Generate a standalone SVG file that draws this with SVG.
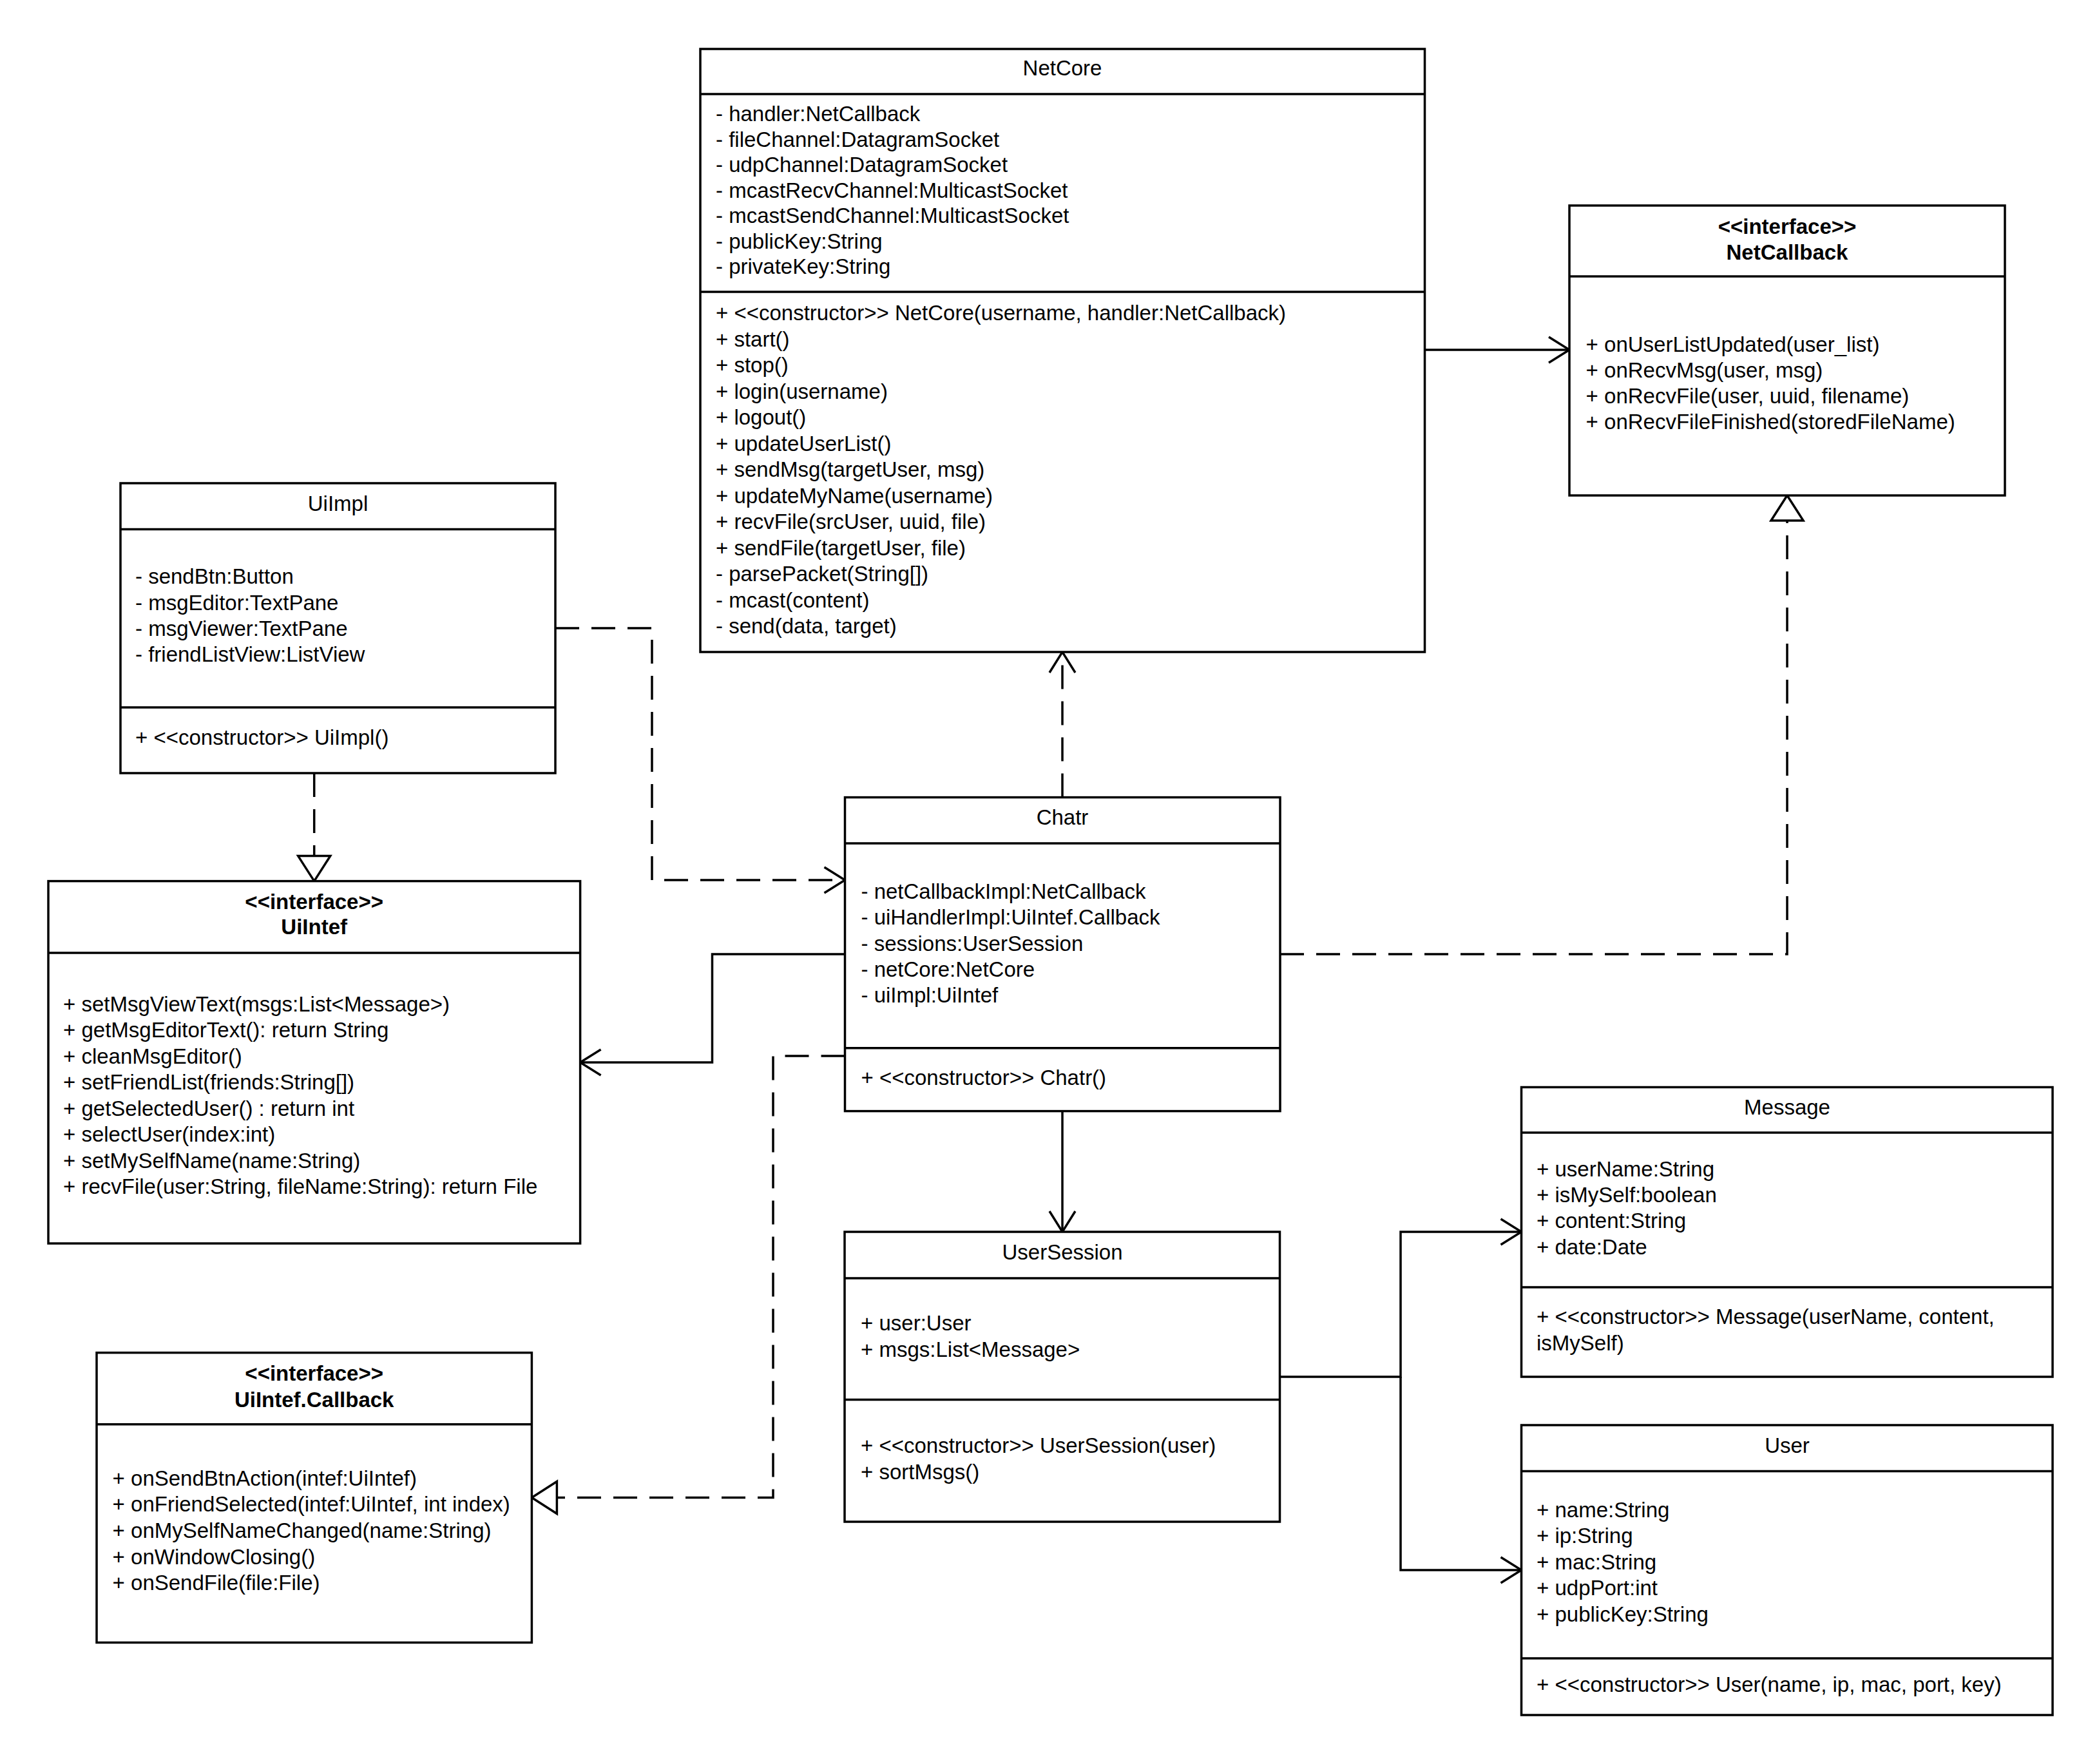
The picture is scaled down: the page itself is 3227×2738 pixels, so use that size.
<svg xmlns="http://www.w3.org/2000/svg" width="3227" height="2738" viewBox="0 0 3227 2738">
<style>
text{font-family:"Liberation Sans",Arial,Helvetica,sans-serif;font-size:33px;fill:#000}
.t{text-anchor:middle}
.b{font-weight:bold;text-anchor:middle}
.box{fill:#fff;stroke:#000;stroke-width:3.5}
.sep{stroke:#000;stroke-width:3.5;fill:none}
.ln{fill:none;stroke:#000;stroke-width:3.5}
.dash{stroke-dasharray:37 19}
</style>
<defs>
<marker id="open" markerUnits="userSpaceOnUse" viewBox="-40 -26 44 52" markerWidth="44" markerHeight="52" refX="0" refY="0" orient="auto" overflow="visible">
<path d="M-32,-20 L0,0 L-32,20" fill="none" stroke="#000" stroke-width="3.5"/>
</marker>
<marker id="tri" markerUnits="userSpaceOnUse" viewBox="-44 -30 48 60" markerWidth="48" markerHeight="60" refX="0" refY="0" orient="auto" overflow="visible">
<path d="M0,0 L-39,-25 L-39,25 Z" fill="#fff" stroke="#000" stroke-width="3.5"/>
</marker>
</defs>
<rect width="3227" height="2738" fill="#fff"/>
<g id="connectors">
<path class="ln" d="M2211.5,543 L2436,543" marker-end="url(#open)"/>
<path class="ln dash" d="M1649,1237.6 L1649,1012" marker-end="url(#open)"/>
<path class="ln dash" d="M1987,1481 L2774,1481 L2774,769" marker-end="url(#tri)"/>
<path class="ln dash" d="M862,975 L1012,975 L1012,1366 L1311.5,1366" marker-end="url(#open)"/>
<path class="ln dash" d="M487.7,1200 L487.7,1367.6" marker-end="url(#tri)"/>
<path class="ln" d="M1311.5,1481 L1105.5,1481 L1105.5,1649 L900.6,1649" marker-end="url(#open)"/>
<path class="ln dash" d="M1311.5,1639 L1200,1639 L1200,2324.5 L825.4,2324.5" marker-end="url(#tri)"/>
<path class="ln" d="M1649,1724.6 L1649,1912" marker-end="url(#open)"/>
<path class="ln" d="M1986.5,2137 L2174,2137 L2174,1912 L2361.5,1912" marker-end="url(#open)"/>
<path class="ln" d="M2174,2137 L2174,2437 L2361.5,2437" marker-end="url(#open)"/>
</g>
<g id="NetCore">
<rect class="box" x="1087" y="76" width="1124.5" height="936"/>
<path class="sep" d="M1087,146 H2211.5 M1087,453 H2211.5"/>
<text class="t" x="1649" y="117">NetCore</text>
<text x="1111" y="188">- handler:NetCallback</text>
<text x="1111" y="227.5">- fileChannel:DatagramSocket</text>
<text x="1111" y="267">- udpChannel:DatagramSocket</text>
<text x="1111" y="306.5">- mcastRecvChannel:MulticastSocket</text>
<text x="1111" y="346">- mcastSendChannel:MulticastSocket</text>
<text x="1111" y="385.5">- publicKey:String</text>
<text x="1111" y="425">- privateKey:String</text>
<text x="1111" y="497">+ &lt;&lt;constructor&gt;&gt; NetCore(username, handler:NetCallback)</text>
<text x="1111" y="537.5">+ start()</text>
<text x="1111" y="578">+ stop()</text>
<text x="1111" y="618.5">+ login(username)</text>
<text x="1111" y="659">+ logout()</text>
<text x="1111" y="699.5">+ updateUserList()</text>
<text x="1111" y="740">+ sendMsg(targetUser, msg)</text>
<text x="1111" y="780.5">+ updateMyName(username)</text>
<text x="1111" y="821">+ recvFile(srcUser, uuid, file)</text>
<text x="1111" y="861.5">+ sendFile(targetUser, file)</text>
<text x="1111" y="902">- parsePacket(String[])</text>
<text x="1111" y="942.5">- mcast(content)</text>
<text x="1111" y="983">- send(data, target)</text>
</g>
<g id="NetCallback">
<rect class="box" x="2436" y="319" width="676" height="450"/>
<path class="sep" d="M2436,429 H3112"/>
<text class="b" x="2774" y="363">&lt;&lt;interface&gt;&gt;</text>
<text class="b" x="2774" y="403">NetCallback</text>
<text x="2461.6" y="546">+ onUserListUpdated(user_list)</text>
<text x="2461.6" y="586">+ onRecvMsg(user, msg)</text>
<text x="2461.6" y="626">+ onRecvFile(user, uuid, filename)</text>
<text x="2461.6" y="666">+ onRecvFileFinished(storedFileName)</text>
</g>
<g id="UiImpl">
<rect class="box" x="187" y="750" width="675" height="450"/>
<path class="sep" d="M187,821.6 H862 M187,1098 H862"/>
<text class="t" x="524.5" y="793">UiImpl</text>
<text x="210" y="906">- sendBtn:Button</text>
<text x="210" y="946.5">- msgEditor:TextPane</text>
<text x="210" y="986.5">- msgViewer:TextPane</text>
<text x="210" y="1027">- friendListView:ListView</text>
<text x="210" y="1156">+ &lt;&lt;constructor&gt;&gt; UiImpl()</text>
</g>
<g id="UiIntef">
<rect class="box" x="75" y="1367.6" width="825.6" height="562.4"/>
<path class="sep" d="M75,1479 H900.6"/>
<text class="b" x="487.7" y="1410.5">&lt;&lt;interface&gt;&gt;</text>
<text class="b" x="487.7" y="1450">UiIntef</text>
<text x="98" y="1569.5">+ setMsgViewText(msgs:List&lt;Message&gt;)</text>
<text x="98" y="1610">+ getMsgEditorText(): return String</text>
<text x="98" y="1650.5">+ cleanMsgEditor()</text>
<text x="98" y="1691">+ setFriendList(friends:String[])</text>
<text x="98" y="1731.5">+ getSelectedUser() : return int</text>
<text x="98" y="1772">+ selectUser(index:int)</text>
<text x="98" y="1812.5">+ setMySelfName(name:String)</text>
<text x="98" y="1853">+ recvFile(user:String, fileName:String): return File</text>
</g>
<g id="UiIntef.Callback">
<rect class="box" x="150" y="2099.6" width="675.4" height="449.9"/>
<path class="sep" d="M150,2210.7 H825.4"/>
<text class="b" x="487.7" y="2143">&lt;&lt;interface&gt;&gt;</text>
<text class="b" x="487.7" y="2184">UiIntef.Callback</text>
<text x="174.6" y="2305.7">+ onSendBtnAction(intef:UiIntef)</text>
<text x="174.6" y="2346.3">+ onFriendSelected(intef:UiIntef, int index)</text>
<text x="174.6" y="2386.9">+ onMySelfNameChanged(name:String)</text>
<text x="174.6" y="2427.5">+ onWindowClosing()</text>
<text x="174.6" y="2468">+ onSendFile(file:File)</text>
</g>
<g id="Chatr">
<rect class="box" x="1311.5" y="1237.6" width="675.5" height="487"/>
<path class="sep" d="M1311.5,1309 H1987 M1311.5,1626.7 H1987"/>
<text class="t" x="1649" y="1280">Chatr</text>
<text x="1336.5" y="1395">- netCallbackImpl:NetCallback</text>
<text x="1336.5" y="1435.3">- uiHandlerImpl:UiIntef.Callback</text>
<text x="1336.5" y="1475.6">- sessions:UserSession</text>
<text x="1336.5" y="1515.9">- netCore:NetCore</text>
<text x="1336.5" y="1556.2">- uiImpl:UiIntef</text>
<text x="1336.5" y="1683.6">+ &lt;&lt;constructor&gt;&gt; Chatr()</text>
</g>
<g id="UserSession">
<rect class="box" x="1311" y="1912" width="675.5" height="450"/>
<path class="sep" d="M1311,1984 H1986.5 M1311,2172.5 H1986.5"/>
<text class="t" x="1649" y="1955">UserSession</text>
<text x="1336" y="2065">+ user:User</text>
<text x="1336" y="2106">+ msgs:List&lt;Message&gt;</text>
<text x="1336" y="2255">+ &lt;&lt;constructor&gt;&gt; UserSession(user)</text>
<text x="1336" y="2295.5">+ sortMsgs()</text>
</g>
<g id="Message">
<rect class="box" x="2361.5" y="1687.5" width="824.5" height="449.5"/>
<path class="sep" d="M2361.5,1758 H3186 M2361.5,1998 H3186"/>
<text class="t" x="2774" y="1730">Message</text>
<text x="2385" y="1825.5">+ userName:String</text>
<text x="2385" y="1866">+ isMySelf:boolean</text>
<text x="2385" y="1906">+ content:String</text>
<text x="2385" y="1946.5">+ date:Date</text>
<text x="2385" y="2055">+ &lt;&lt;constructor&gt;&gt; Message(userName, content,</text>
<text x="2385" y="2095.5">isMySelf)</text>
</g>
<g id="User">
<rect class="box" x="2361.5" y="2212" width="824.5" height="450"/>
<path class="sep" d="M2361.5,2283.6 H3186 M2361.5,2574 H3186"/>
<text class="t" x="2774" y="2255">User</text>
<text x="2385" y="2355">+ name:String</text>
<text x="2385" y="2395.4">+ ip:String</text>
<text x="2385" y="2435.8">+ mac:String</text>
<text x="2385" y="2476.2">+ udpPort:int</text>
<text x="2385" y="2516.6">+ publicKey:String</text>
<text x="2385" y="2625.6">+ &lt;&lt;constructor&gt;&gt; User(name, ip, mac, port, key)</text>
</g>
</svg>
